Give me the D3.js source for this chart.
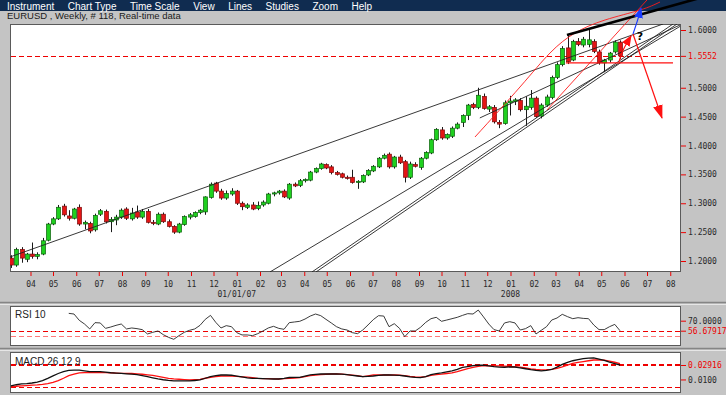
<!DOCTYPE html>
<html>
<head>
<meta charset="utf-8">
<script src="https://cdn.jsdelivr.net/npm/d3@7"></script>
<style>
body { margin: 0; background: #c4c4c4; overflow: hidden; }
svg { display: block; }
</style>
</head>
<body>
<script>

var menuItems = ["Instrument", "Chart Type", "Time Scale", "View", "Lines", "Studies", "Zoom", "Help"];
var titleText = "EURUSD , Weekly, # 118, Real-time data";

// weekly bars, first one is the week of 6 March 2006
var weekStart = new Date(2006, 2, 6);

var opens = [
  1.205,1.193,1.220,1.203,1.212,1.208,1.212,1.236,1.264,1.273,
  1.295,1.278,1.274,1.293,1.264,1.265,1.254,1.281,1.286,1.268,
  1.271,1.276,1.290,1.273,1.285,1.276,1.286,1.267,1.264,1.281,
  1.268,1.260,1.250,1.263,1.276,1.277,1.284,1.285,1.310,1.335,
  1.321,1.309,1.316,1.321,1.300,1.293,1.297,1.291,1.297,1.300,
  1.316,1.318,1.321,1.309,1.333,1.331,1.339,1.340,1.354,1.360,
  1.367,1.363,1.353,1.351,1.345,1.345,1.336,1.337,1.349,1.356,
  1.363,1.378,1.385,1.363,1.380,1.372,1.345,1.367,1.362,1.378,
  1.387,1.410,1.427,1.413,1.416,1.430,1.440,1.452,1.471,1.466,
  1.485,1.463,1.466,1.440,1.438,1.474,1.476,1.478,1.462,1.466,
  1.482,1.451,1.470,1.483,1.518,1.540,1.569,1.548,1.580,1.574,
  1.575,1.580,1.562,1.543,1.548,1.562,1.579];
var highs = [
  1.210,1.223,1.224,1.214,1.232,1.215,1.240,1.266,1.276,1.297,
  1.299,1.288,1.292,1.298,1.270,1.268,1.282,1.290,1.289,1.276,
  1.280,1.291,1.293,1.292,1.296,1.290,1.290,1.271,1.284,1.284,
  1.272,1.262,1.266,1.279,1.283,1.286,1.290,1.312,1.336,1.337,
  1.325,1.322,1.326,1.323,1.303,1.300,1.302,1.303,1.305,1.318,
  1.320,1.323,1.324,1.335,1.336,1.342,1.343,1.356,1.362,1.370,
  1.369,1.366,1.356,1.353,1.348,1.358,1.340,1.350,1.359,1.366,
  1.380,1.386,1.388,1.382,1.384,1.375,1.372,1.371,1.380,1.390,
  1.412,1.430,1.432,1.421,1.433,1.440,1.454,1.472,1.474,1.500,
  1.490,1.470,1.470,1.444,1.478,1.486,1.482,1.482,1.485,1.496,
  1.485,1.473,1.488,1.521,1.544,1.572,1.591,1.583,1.586,1.588,
  1.600,1.584,1.566,1.550,1.562,1.582,1.582];
var lows = [
  1.188,1.190,1.197,1.198,1.204,1.203,1.210,1.234,1.262,1.271,
  1.277,1.270,1.272,1.261,1.255,1.248,1.251,1.278,1.265,1.250,
  1.262,1.273,1.271,1.270,1.273,1.273,1.265,1.262,1.262,1.266,
  1.258,1.247,1.248,1.261,1.272,1.275,1.281,1.280,1.308,1.318,
  1.306,1.306,1.313,1.297,1.288,1.290,1.288,1.288,1.294,1.298,
  1.312,1.315,1.309,1.306,1.328,1.328,1.336,1.338,1.352,1.358,
  1.359,1.350,1.348,1.343,1.341,1.334,1.325,1.335,1.347,1.354,
  1.361,1.376,1.360,1.360,1.368,1.336,1.342,1.362,1.358,1.376,
  1.385,1.408,1.410,1.410,1.413,1.428,1.432,1.444,1.463,1.463,
  1.462,1.458,1.438,1.430,1.436,1.452,1.470,1.459,1.434,1.462,
  1.448,1.447,1.467,1.480,1.515,1.537,1.541,1.546,1.572,1.570,
  1.570,1.560,1.540,1.527,1.544,1.559,1.550];
var closes = [
  1.193,1.220,1.205,1.212,1.208,1.211,1.235,1.264,1.273,1.293,
  1.280,1.274,1.290,1.264,1.267,1.252,1.279,1.287,1.268,1.272,
  1.276,1.288,1.274,1.283,1.276,1.286,1.267,1.265,1.281,1.268,
  1.260,1.250,1.264,1.277,1.280,1.284,1.288,1.311,1.333,1.321,
  1.309,1.317,1.321,1.300,1.294,1.297,1.290,1.296,1.302,1.316,
  1.318,1.321,1.311,1.333,1.330,1.339,1.341,1.354,1.360,1.368,
  1.361,1.353,1.350,1.345,1.343,1.336,1.338,1.348,1.357,1.364,
  1.378,1.383,1.363,1.380,1.370,1.345,1.368,1.364,1.378,1.388,
  1.410,1.428,1.413,1.419,1.430,1.437,1.452,1.470,1.466,1.487,
  1.464,1.467,1.441,1.437,1.474,1.477,1.479,1.462,1.468,1.482,
  1.450,1.470,1.484,1.518,1.540,1.568,1.545,1.580,1.575,1.584,
  1.583,1.563,1.543,1.548,1.560,1.579,1.5552];

// RSI 10 starts at bar 11
var rsiStart = 11;
var rsiValues = [
  79.8,78.9,70.5,65.6,59.0,67.4,67.0,59.8,61.6,63.8,
  65.6,59.0,60.3,59.4,58.1,52.3,54.5,56.3,51.4,47.8,
  45.2,50.1,54.5,57.2,59.0,63.8,71.8,77.1,67.8,60.3,
  63.4,62.0,54.1,51.0,51.0,50.1,52.7,56.3,60.3,62.5,
  59.8,58.5,67.4,68.3,69.2,72.2,76.2,78.9,76.7,71.8,
  67.0,62.0,59.0,57.6,54.1,52.7,57.6,64.3,71.4,76.7,
  76.2,62.0,66.0,59.8,48.7,56.3,56.3,61.2,67.8,72.7,
  74.5,69.2,70.9,72.7,74.5,77.1,79.4,78.9,84.2,75.1,
  65.6,58.1,56.3,67.0,68.7,67.0,57.6,59.4,63.4,52.3,
  57.2,62.0,70.9,73.6,78.5,75.4,72.7,74.0,73.1,72.7,
  64.3,58.1,58.1,62.0,65.1,56.67917];

var macdValues = [
  0.0016,0.0030,0.0041,0.0045,0.0053,0.0065,0.0085,0.0115,0.0147,0.0179,
  0.0203,0.0221,0.0225,0.0225,0.0215,0.0204,0.0203,0.0203,0.0196,0.0189,
  0.0185,0.0180,0.0175,0.0170,0.0163,0.0152,0.0136,0.0121,0.0107,0.0096,
  0.0087,0.0082,0.0080,0.0080,0.0080,0.0086,0.0093,0.0116,0.0138,0.0150,
  0.0159,0.0159,0.0156,0.0144,0.0133,0.0121,0.0115,0.0115,0.0112,0.0107,
  0.0106,0.0106,0.0115,0.0126,0.0128,0.0128,0.0144,0.0160,0.0166,0.0172,
  0.0172,0.0172,0.0172,0.0170,0.0163,0.0155,0.0146,0.0137,0.0142,0.0146,
  0.0153,0.0159,0.0159,0.0158,0.0153,0.0146,0.0135,0.0127,0.0125,0.0137,
  0.0163,0.0178,0.0187,0.0200,0.0214,0.0235,0.0259,0.0271,0.0283,0.0288,
  0.0290,0.0279,0.0269,0.0264,0.0262,0.0267,0.0265,0.0254,0.0242,0.0230,
  0.0221,0.0214,0.0220,0.0232,0.0263,0.0300,0.0325,0.0348,0.0362,0.0376,
  0.0383,0.0387,0.0370,0.0352,0.0329,0.0311,0.02916];
var signalValues = [
  0.0005,0.0010,0.0015,0.0019,0.0024,0.0028,0.0035,0.0045,0.0062,0.0085,
  0.0116,0.0151,0.0171,0.0188,0.0190,0.0190,0.0190,0.0190,0.0190,0.0189,
  0.0185,0.0181,0.0181,0.0179,0.0175,0.0169,0.0162,0.0153,0.0142,0.0128,
  0.0114,0.0107,0.0103,0.0098,0.0093,0.0097,0.0102,0.0116,0.0129,0.0138,
  0.0146,0.0146,0.0145,0.0140,0.0135,0.0130,0.0124,0.0114,0.0110,0.0110,
  0.0107,0.0106,0.0110,0.0114,0.0119,0.0124,0.0137,0.0151,0.0157,0.0164,
  0.0169,0.0172,0.0172,0.0170,0.0163,0.0157,0.0150,0.0138,0.0148,0.0159,
  0.0159,0.0159,0.0159,0.0159,0.0156,0.0152,0.0142,0.0135,0.0130,0.0137,
  0.0153,0.0164,0.0170,0.0179,0.0188,0.0205,0.0224,0.0242,0.0261,0.0272,
  0.0282,0.0280,0.0279,0.0279,0.0277,0.0272,0.0268,0.0263,0.0254,0.0240,
  0.0232,0.0227,0.0229,0.0233,0.0248,0.0267,0.0289,0.0313,0.0325,0.0336,
  0.0348,0.0358,0.0358,0.0355,0.0344,0.0328,0.0311];

var priceTicks = [1.2, 1.25, 1.3, 1.35, 1.4, 1.45, 1.5, 1.5552, 1.6];
var lastPrice = 1.5552;
var rsiTicks = [70, 56.67917];
var rsiTickLabels = ["70.0000", "56.67917"];
var rsiLevels = [56.67917, 50];
var macdTicks = [0.02916, 0.01];
var macdTickLabels = ["0.02916", "0.0100"];
var macdLevels = [0.0311, 0.02916, 0];
var yearMarks = [[new Date(2007, 0, 1), "01/01/07"], [new Date(2008, 0, 1), "2008"]];

// drawn trend lines, as [bar index, price] pairs
var trendLines = [
  [[-0.2, 1.2069], [124.2, 1.6104]],
  [[49.33, 1.181], [127.43, 1.6062]],
  [[57.33, 1.181], [126.1, 1.6104]],
  [[58.1, 1.181], [126.86, 1.6104]],
  [[89.3, 1.4477], [127.43, 1.6087]]
];
var topLine = [[105.9, 1.5913], [131.2, 1.6554]];
var redCurve = [[88.38, 1.4147], [96.95, 1.5013], [102.67, 1.5602], [107.43, 1.5948], [113.14, 1.6173], [119.81, 1.6346], [123.62, 1.6485]];
var redLine = [[102.1, 1.4615], [121.14, 1.652]];
var supportLine = [[105.7, 1.5431], [126.1, 1.5431]];
var arrowUp = [[115.8, 1.5448], [116.7, 1.567], [118.1, 1.5896]];
var arrowDown = [[118.48, 1.5931], [124.0, 1.4476]];
var arrowBlue = [[118.48, 1.5931], [119.35, 1.617], [120.0, 1.6381]];
var questionMark = [119.8, 1.5896];

var W = 726, H = 395;
var WEEK = 7 * 864e5;
var dates = closes.map(function(c, i) { return new Date(+weekStart + i * WEEK); });

var x = d3.scaleTime()
    .domain([dates[0], dates[dates.length - 1]])
    .range([11, 620]);
var y = d3.scaleLinear().domain([1.2, 1.6]).range([261, 30]);
var yRsi = d3.scaleLinear().domain([50, 70]).range([335.7, 320.7]);
var yMacd = d3.scaleLinear().domain([0, 0.02916]).range([387, 365]);

function barX(b) { return x(new Date(+weekStart + b * WEEK)); }

var plotL = 10, plotR = 681;
var main = {top: 24, bottom: 272};
var rsiBox = {top: 306, bottom: 346};
var macdBox = {top: 352, bottom: 393};

var svg = d3.select("body").append("svg")
    .attr("width", W)
    .attr("height", H);

var defs = svg.append("defs");
defs.append("clipPath").attr("id", "clipMain")
  .append("rect")
    .attr("x", plotL).attr("y", main.top)
    .attr("width", plotR - plotL).attr("height", main.bottom - main.top);

function marker(id, color, w, l) {
  defs.append("marker")
      .attr("id", id)
      .attr("markerUnits", "userSpaceOnUse")
      .attr("markerWidth", l + 1)
      .attr("markerHeight", w + 1)
      .attr("viewBox", "0 0 " + l + " " + w)
      .attr("refX", l - 1)
      .attr("refY", w / 2)
      .attr("orient", "auto")
    .append("path")
      .attr("d", "M0,0 L" + l + "," + (w / 2) + " L0," + w + " Z")
      .attr("fill", color);
}
marker("headUp", "#ff1010", 8, 10);
marker("headDown", "#ff1010", 9, 13);
marker("headBlue", "#1a3cff", 8, 10);

// background and menu bar
svg.append("rect").attr("width", W).attr("height", H).attr("fill", "#c4c4c4");
svg.append("rect").attr("width", W).attr("height", 11).attr("fill", "#102c50");

var mx = 7;
menuItems.forEach(function(m) {
  var t = svg.append("text")
      .attr("x", mx).attr("y", 9.5)
      .attr("fill", "#ffffff")
      .style("font", "10px 'Liberation Sans', Arial, sans-serif")
      .text(m);
  mx += t.node().getComputedTextLength() + 13.5;
});

svg.append("text")
    .attr("x", 7).attr("y", 19)
    .attr("fill", "#1a1a1a")
    .style("font", "9.5px 'Liberation Sans', Arial, sans-serif")
    .text(titleText);

// panel separators
[302.5, 348.5].forEach(function(v) {
  svg.append("line").attr("x1", 0).attr("x2", W).attr("y1", v).attr("y2", v)
      .attr("stroke", "#858585").attr("stroke-width", 1.5);
  svg.append("line").attr("x1", 0).attr("x2", W).attr("y1", v + 2).attr("y2", v + 2)
      .attr("stroke", "#e6e6e6").attr("stroke-width", 1);
});

// panels
[main, rsiBox, macdBox].forEach(function(p) {
  svg.append("rect")
      .attr("x", plotL + 0.5).attr("y", p.top + 0.5)
      .attr("width", plotR - plotL - 1).attr("height", p.bottom - p.top - 1)
      .attr("fill", "#ffffff")
      .attr("stroke", "#5a5a5a");
});

function styleAxis(g) {
  g.select(".domain").remove();
  g.selectAll(".tick line").attr("stroke", "#ee0000");
  g.selectAll(".tick text")
      .attr("fill", "#2a2a2a")
      .style("font", "8px 'DejaVu Sans Mono', monospace");
}

// time axis
var xAxis = d3.axisBottom(x)
    .tickValues(d3.timeMonth.range(new Date(2006, 3, 1), new Date(2008, 8, 1)))
    .tickFormat(d3.timeFormat("%m"))
    .tickSize(4)
    .tickSizeOuter(0)
    .tickPadding(5);
svg.append("g")
    .attr("transform", "translate(0," + main.bottom + ")")
    .call(xAxis)
    .call(styleAxis);

yearMarks.forEach(function(d) {
  svg.append("text")
      .attr("x", x(d[0])).attr("y", 297)
      .attr("text-anchor", "middle")
      .attr("fill", "#2a2a2a")
      .style("font", "8px 'DejaVu Sans Mono', monospace")
      .text(d[1]);
});

// price axis
var yAxis = d3.axisRight(y)
    .tickValues(priceTicks)
    .tickFormat(d3.format(".4f"))
    .tickSize(5)
    .tickPadding(2);
svg.append("g")
    .attr("transform", "translate(" + plotR + ",0)")
    .call(yAxis)
    .call(styleAxis)
    .selectAll(".tick text")
    .filter(function(d) { return d === lastPrice; })
    .attr("fill", "#ee0000");

svg.append("g")
    .attr("transform", "translate(" + plotR + ",0)")
    .call(d3.axisRight(yRsi).tickValues(rsiTicks).tickSize(5).tickPadding(2)
      .tickFormat(function(d, i) { return rsiTickLabels[i]; }))
    .call(styleAxis)
    .selectAll(".tick text")
    .filter(function(d, i) { return i === 1; })
    .attr("fill", "#ee0000");

svg.append("g")
    .attr("transform", "translate(" + plotR + ",0)")
    .call(d3.axisRight(yMacd).tickValues(macdTicks).tickSize(5).tickPadding(2)
      .tickFormat(function(d, i) { return macdTickLabels[i]; }))
    .call(styleAxis)
    .selectAll(".tick text")
    .filter(function(d, i) { return i === 0; })
    .attr("fill", "#ee0000");

// dashed level lines
function dashed(v, color) {
  svg.append("line")
      .attr("x1", plotL + 1).attr("x2", plotR)
      .attr("y1", Math.round(v) + 0.5).attr("y2", Math.round(v) + 0.5)
      .attr("stroke", color)
      .attr("stroke-width", 1.2)
      .attr("stroke-dasharray", "5,3");
}
dashed(y(lastPrice), "#ee0000");
dashed(yRsi(rsiLevels[0]), "#ee0000");
dashed(yRsi(rsiLevels[1]), "#ff7a7a");
macdLevels.forEach(function(v) { dashed(yMacd(v), "#ee0000"); });

// candles
var plot = svg.append("g").attr("clip-path", "url(#clipMain)");
var candle = plot.selectAll("g.candle")
  .data(dates)
  .join("g")
    .attr("class", "candle")
    .attr("transform", function(d) { return "translate(" + (Math.round(x(d)) + 0.5) + ",0)"; });

candle.append("line")
    .attr("y1", function(d, i) { return y(highs[i]); })
    .attr("y2", function(d, i) { return y(lows[i]); })
    .attr("stroke", "#1a1a1a");

candle.append("rect")
    .attr("x", -2)
    .attr("width", 4)
    .attr("y", function(d, i) { return y(Math.max(opens[i], closes[i])); })
    .attr("height", function(d, i) { return Math.max(1, Math.abs(y(opens[i]) - y(closes[i]))); })
    .attr("fill", function(d, i) { return closes[i] >= opens[i] ? "#1fd01f" : "#e31515"; })
    .attr("stroke", function(d, i) { return closes[i] >= opens[i] ? "#0b5e0b" : "#7a0a0a"; })
    .attr("stroke-width", 0.7);

// trend lines
var priceLine = d3.line()
    .x(function(d) { return barX(d[0]); })
    .y(function(d) { return y(d[1]); });

plot.selectAll("path.trend")
  .data(trendLines)
  .join("path")
    .attr("class", "trend")
    .attr("d", priceLine)
    .attr("fill", "none")
    .attr("stroke", "#222")
    .attr("stroke-width", 0.9);

svg.append("path")
    .attr("d", priceLine(supportLine))
    .attr("fill", "none")
    .attr("stroke", "#ff1010")
    .attr("stroke-width", 1.3);

svg.append("path")
    .attr("d", priceLine.curve(d3.curveNatural)(redCurve))
    .attr("fill", "none")
    .attr("stroke", "#ff1a1a")
    .attr("stroke-width", 0.9);
priceLine.curve(d3.curveLinear);

svg.append("path")
    .attr("d", priceLine(redLine))
    .attr("fill", "none")
    .attr("stroke", "#ff1a1a")
    .attr("stroke-width", 0.9);

svg.append("path")
    .attr("d", priceLine(topLine))
    .attr("fill", "none")
    .attr("stroke", "#000")
    .attr("stroke-width", 2.6);

// arrows
var curved = d3.line()
    .x(function(d) { return barX(d[0]); })
    .y(function(d) { return y(d[1]); })
    .curve(d3.curveNatural);

svg.append("path")
    .attr("d", curved(arrowUp))
    .attr("fill", "none")
    .attr("stroke", "#ff1010")
    .attr("stroke-width", 1.2)
    .attr("marker-end", "url(#headUp)");

svg.append("path")
    .attr("d", curved(arrowDown))
    .attr("fill", "none")
    .attr("stroke", "#ff1010")
    .attr("stroke-width", 1.2)
    .attr("marker-end", "url(#headDown)");

svg.append("path")
    .attr("d", curved(arrowBlue))
    .attr("fill", "none")
    .attr("stroke", "#1a3cff")
    .attr("stroke-width", 1.2)
    .attr("marker-end", "url(#headBlue)");

svg.append("text")
    .attr("x", barX(questionMark[0]))
    .attr("y", y(questionMark[1]) + 4)
    .attr("text-anchor", "middle")
    .attr("fill", "#000")
    .style("font", "bold 11px 'DejaVu Sans', sans-serif")
    .text("?");

// RSI panel
svg.append("path")
    .datum(rsiValues)
    .attr("d", d3.line()
      .x(function(d, i) { return x(dates[i + rsiStart]); })
      .y(function(d) { return yRsi(d); }))
    .attr("fill", "none")
    .attr("stroke", "#262626")
    .attr("stroke-width", 0.9);

svg.append("text")
    .attr("x", 15).attr("y", 318)
    .attr("fill", "#222")
    .style("font", "10px 'Liberation Sans', Arial, sans-serif")
    .text("RSI 10");

// MACD panel
var macdLine = d3.line()
    .x(function(d, i) { return x(dates[i]); })
    .y(function(d) { return yMacd(d); });

svg.append("path")
    .datum(signalValues)
    .attr("d", macdLine)
    .attr("fill", "none")
    .attr("stroke", "#ff1010")
    .attr("stroke-width", 1.3);

svg.append("path")
    .datum(macdValues)
    .attr("d", macdLine)
    .attr("fill", "none")
    .attr("stroke", "#111")
    .attr("stroke-width", 1.3);

svg.append("text")
    .attr("x", 15).attr("y", 364.5)
    .attr("fill", "#222")
    .style("font", "10px 'Liberation Sans', Arial, sans-serif")
    .text("MACD 26 12 9");

</script>
</body>
</html>
